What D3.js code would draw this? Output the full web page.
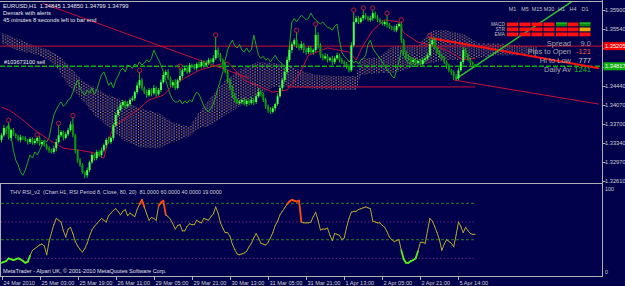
<!DOCTYPE html>
<meta charset="utf-8">
<script src="https://d3js.org/d3.v7.min.js"></script>
<style>
body { margin: 0; background: #00004b; overflow: hidden; }
text { font-family: "Liberation Sans", Arial, sans-serif; }
</style>
<div id="chart"></div>
<script>
// ---- data ----
var firstOpen = 1.3340;
var closes = [
  1.3349,1.3363,1.3355,1.3344,1.3359,1.3351,1.3347,1.3340,1.3345,1.3344,
  1.3340,1.3336,1.3342,1.3334,1.3338,1.3344,1.3332,1.3336,1.3330,1.3324,
  1.3320,1.3317,1.3324,1.3336,1.3349,1.3355,1.3344,1.3351,1.3359,1.3370,
  1.3349,1.3320,1.3301,1.3292,1.3278,1.3272,1.3282,1.3297,1.3311,1.3305,
  1.3317,1.3311,1.3320,1.3330,1.3340,1.3336,1.3344,1.3368,1.3388,1.3398,
  1.3407,1.3413,1.3405,1.3409,1.3417,1.3420,1.3432,1.3445,1.3455,1.3440,
  1.3432,1.3426,1.3436,1.3430,1.3440,1.3428,1.3436,1.3451,1.3465,1.3471,
  1.3459,1.3445,1.3451,1.3440,1.3455,1.3463,1.3474,1.3478,1.3471,1.3484,
  1.3482,1.3478,1.3486,1.3482,1.3490,1.3484,1.3488,1.3494,1.3490,1.3497,
  1.3513,1.3503,1.3494,1.3484,1.3471,1.3455,1.3440,1.3426,1.3417,1.3413,
  1.3413,1.3417,1.3409,1.3415,1.3411,1.3417,1.3413,1.3424,1.3432,1.3428,
  1.3417,1.3405,1.3398,1.3394,1.3401,1.3409,1.3424,1.3440,1.3455,1.3471,
  1.3494,1.3513,1.3524,1.3532,1.3521,1.3517,1.3524,1.3513,1.3509,1.3517,
  1.3509,1.3513,1.3542,1.3522,1.3503,1.3497,1.3501,1.3494,1.3497,1.3490,
  1.3497,1.3503,1.3494,1.3490,1.3486,1.3482,1.3474,1.3522,1.3567,1.3574,
  1.3567,1.3574,1.3580,1.3576,1.3571,1.3574,1.3584,1.3576,1.3571,1.3567,
  1.3563,1.3567,1.3561,1.3557,1.3555,1.3551,1.3559,1.3563,1.3532,1.3509,
  1.3501,1.3497,1.3490,1.3494,1.3488,1.3492,1.3486,1.3494,1.3497,1.3503,
  1.3524,1.3532,1.3517,1.3509,1.3503,1.3497,1.3490,1.3482,1.3474,1.3471,
  1.3463,1.3459,1.3474,1.3490,1.3513,1.3503,1.3494,1.3488,1.3486,1.3480
];
// wick lengths in pips above / below the body
var upWick = [
  4,6,3,19,3,4,2,3,5,3, 3,2,4,3,5,2,3,4,2,3, 4,3,5,6,19,4,3,5,4,6, 13,3,2,4,3,2,5,3,4,3,
  4,3,5,3,4,6,3,5,4,6, 5,4,3,6,4,5,3,6,15,4, 3,5,4,3,6,3,4,5,6,4, 5,3,4,6,3,15,4,3,5,4,
  3,4,3,5,4,3,5,4,3,6, 25,5,4,3,6,4,3,5,4,3, 4,3,5,4,3,6,4,5,8,4, 3,4,3,5,4,3,6,5,4,8,
  6,8,5,4,15,4,6,3,5,4, 4,3,17,5,4,3,6,4,3,5, 4,5,3,4,3,4,3,6,19,5, 4,3,10,4,3,5,6,3,4,3,
  4,3,13,4,3,5,4,3,4,3, 3,4,3,5,4,3,4,5,3,4, 13,4,5,3,4,3,4,3,5,3, 3,4,5,3,6,4,3,4,3,0
];
var dnWick = [
  5,3,4,3,6,3,4,3,5,4, 3,5,4,3,4,5,3,4,3,4, 5,3,4,6,3,4,5,3,4,3, 4,6,5,4,3,6,5,4,3,5,
  4,3,5,4,6,3,4,5,3,4, 3,4,5,3,4,3,5,4,6,5, 4,5,3,6,4,5,3,4,3,5, 4,3,5,4,3,4,5,3,4,3,
  4,3,5,3,4,5,3,4,3,4, 3,5,4,6,3,5,4,6,5,4, 5,4,3,5,4,3,6,4,3,5, 4,5,6,4,3,5,4,3,5,4,
  5,4,6,3,4,5,4,6,5,4, 3,5,4,6,5,4,3,5,4,6, 4,3,5,4,6,5,4,3,4,3, 4,3,5,4,3,4,5,3,4,3,
  3,4,5,3,4,3,4,3,6,4, 5,4,3,5,4,6,3,4,5,4, 4,5,3,4,5,3,4,5,4,6, 8,5,4,3,5,4,3,4,3,0
];
var rsi = [
  14,15,16,19,18,17,18,19,18,16, 14,15,22,28,30,32,34,35,33,23,
  38,48,57,64,62,60,50,43,52,54, 47,38,33,29,26,30,36,44,51,55,
  58,61,64,62,60,67,70,73,75,72, 68,72,74,67,70,68,66,74,80,85,
  77,69,62,65,64,62,78,82,84,68, 66,63,58,52,56,57,50,50,55,58,
  57,57,62,60,59,64,63,62,66,69, 77,70,59,53,48,48,44,35,29,24,
  23,24,25,27,32,36,42,47,42,36, 35,34,37,42,48,56,61,68,72,76,
  80,83,85,84,83,84,60,59,59,59, 60,66,71,62,51,52,52,53,45,39,
  47,46,45,40,42,54,64,71,72,72, 74,75,76,77,76,75,61,60,59,59,
  56,54,49,43,40,38,39,40,28,18, 14,14,16,17,19,27,37,37,36,50,
  64,61,55,48,40,28,35,40,38,36, 32,45,60,55,48,54,50,47,46,46
];
var kumoBars = [0,6,14,20,24,28,34,39,45,51,58,66,72,79,83,88,94,101,108,114,120,127,133,141,149,151,158,164,169,175,181,187,195,200,208,217,225];
var spanA = [1.3546,1.3536,1.3521,1.3513,1.3503,1.3484,1.3455,1.3442,1.3426,1.3417,1.3401,1.3392,1.3374,1.3365,1.3394,1.3422,1.3455,1.3478,1.3490,1.3488,1.3484,1.3471,1.3465,1.3463,1.3463,1.3497,1.3499,1.3519,1.3522,1.3522,1.3551,1.3551,1.3542,1.3526,1.3526,1.3522,1.3519];
var spanB = [1.3526,1.3513,1.3505,1.3494,1.3474,1.3445,1.3417,1.3388,1.3365,1.3340,1.3326,1.3324,1.3336,1.3347,1.3363,1.3368,1.3388,1.3407,1.3426,1.3442,1.3442,1.3440,1.3438,1.3436,1.3436,1.3465,1.3469,1.3469,1.3474,1.3484,1.3488,1.3494,1.3494,1.3497,1.3503,1.3503,1.3507];
var tenkanBars = [0,3,8,14,20,26,33,39,43,45,47,51,58,62,68,72,77,83,89,95,102,108,114,120,125,129,137,146,149,152,156,161,167,169,175,181,187,194,199];
var tenkanPrices = [1.3403,1.3398,1.3382,1.3359,1.3340,1.3324,1.3320,1.3315,1.3305,1.3340,1.3365,1.3378,1.3401,1.3417,1.3426,1.3445,1.3459,1.3474,1.3482,1.3490,1.3455,1.3444,1.3432,1.3436,1.3465,1.3503,1.3517,1.3509,1.3494,1.3522,1.3551,1.3571,1.3567,1.3546,1.3528,1.3522,1.3513,1.3494,1.3497];
var demarkBars = [3,15,24,30,58,75,90,124,132,148,152,156,162,168,180];
var trendFrom = [[17.2,1.3603],[180.3,1.3536],[190.4,1.3455],[190.8,1.3457],[120,1.3442]];
var trendTo   = [[104,1.3459],[251,1.3478],[251,1.3409],[240.6,1.3609],[199,1.3442]];
var stopPrice = 1.35205, orderPrice = 1.34817;
var priceTicks = [1.35900,1.35540,1.35170,1.34810,1.34440,1.34070,1.33700,1.33340,1.32970,1.32610];
var timeLabels = ["24 Mar 2010","25 Mar 03:00","25 Mar 19:00","26 Mar 11:00","29 Mar 05:00","29 Mar 21:00",
                  "30 Mar 13:00","31 Mar 05:00","31 Mar 21:00","1 Apr 13:00","2 Apr 05:00","2 Apr 21:00","5 Apr 14:00"];
var rsiLevels = [81, 60, 40, 19];
var tfNames = ["M1","M5","M15","M30","H1","H4","D1"];
var tfRows = ["MACD","STR","EMA"];
var tfSignals = [["dn","dn","dn","dn","up","dn","up"],
                 ["dn","dn","dn","dn","dn","dn","flat"],
                 ["dn","dn","dn","dn","dn","dn","dn"]];
var infoNames = ["Spread","Pips to Open","Hi to Low","Daily Av"];
var infoValues = ["9.0","-121","777","1241"];

// ---- setup ----
var W = 625, H = 286, axisX = 602.5;
var svg = d3.select("#chart").append("svg").attr("width", W).attr("height", H);
svg.append("rect").attr("width", W).attr("height", H).attr("fill", "#00004b");

var x = d3.scaleLinear().domain([0, 199]).range([1.5, 1.5 + 199 * 2.38]);
var y = d3.scaleLinear().domain([1.32610, 1.35900]).range([181, 10]);
var yr = d3.scaleLinear().domain([0, 100]).range([275.2, 186.5]);

var defs = svg.append("defs");
defs.append("clipPath").attr("id", "mainClip").append("rect")
    .attr("x", 0).attr("y", 2).attr("width", axisX).attr("height", 181);
// dotted kumo fill: sparse orange / peach dots
var pat = defs.append("pattern").attr("id", "kumo").attr("patternUnits", "userSpaceOnUse")
    .attr("width", 4.76).attr("height", 2.8);
pat.append("rect").attr("x", 0).attr("y", 0).attr("width", 1.1).attr("height", 1.1).attr("fill", "#e89a50");
pat.append("rect").attr("x", 2.38).attr("y", 1.4).attr("width", 1.1).attr("height", 1.1).attr("fill", "#f6dcc0");

var main = svg.append("g").attr("clip-path", "url(#mainClip)");

// Ichimoku cloud
var kumo = kumoBars.map(function (b, i) { return { b: b, a: spanA[i], s: spanB[i] }; });
main.append("path").datum(kumo)
    .attr("fill", "url(#kumo)")
    .attr("d", d3.area().x(function (d) { return x(d.b); })
        .y0(function (d) { return y(d.a); }).y1(function (d) { return y(d.s); }));

// order lines
main.append("line").attr("x1", 0).attr("x2", axisX).attr("y1", y(stopPrice)).attr("y2", y(stopPrice))
    .attr("stroke", "#d0102a").attr("stroke-width", 1);
main.append("line").attr("x1", 0).attr("x2", axisX).attr("y1", y(orderPrice)).attr("y2", y(orderPrice))
    .attr("stroke", "#10b010").attr("stroke-width", 1.5).attr("stroke-dasharray", "5,2");

// chikou span (close shifted back 26 bars)
var chikou = closes.map(function (c, i) { return [i - 26, c]; }).filter(function (d) { return d[0] >= 0; });
main.append("path").datum(chikou).attr("fill", "none").attr("stroke", "#22a822").attr("stroke-width", 1)
    .attr("d", d3.line().x(function (d) { return x(d[0]); }).y(function (d) { return y(d[1]); }));

// tenkan
main.append("path").datum(tenkanBars.map(function (b, i) { return [b, tenkanPrices[i]]; }))
    .attr("fill", "none").attr("stroke", "#c8103a").attr("stroke-width", 1)
    .attr("d", d3.line().x(function (d) { return x(d[0]); }).y(function (d) { return y(d[1]); }));

// trend lines
var trendStyle = [["#c8103a", 1], ["#ff1010", 2], ["#c8103a", 1], ["#30c030", 1.5], ["#c8103a", 1]];
trendFrom.forEach(function (f, i) {
  main.append("line").attr("x1", x(f[0])).attr("y1", y(f[1]))
      .attr("x2", x(trendTo[i][0])).attr("y2", y(trendTo[i][1]))
      .attr("stroke", trendStyle[i][0]).attr("stroke-width", trendStyle[i][1]);
});

// candles
var bars = closes.map(function (c, i) {
  var o = i === 0 ? firstOpen : closes[i - 1];
  return { i: i, o: o, c: c,
           h: Math.max(o, c) + upWick[i] * 0.0001,
           l: Math.min(o, c) - dnWick[i] * 0.0001 };
});
main.selectAll(".wick").data(bars).enter().append("line")
    .attr("x1", function (d) { return x(d.i); }).attr("x2", function (d) { return x(d.i); })
    .attr("y1", function (d) { return y(d.h); }).attr("y2", function (d) { return y(d.l); })
    .attr("stroke", "#18c018").attr("stroke-width", 1);
main.selectAll(".body").data(bars).enter().append("rect")
    .attr("x", function (d) { return x(d.i) - 1; }).attr("width", 2)
    .attr("y", function (d) { return y(Math.max(d.o, d.c)); })
    .attr("height", function (d) { return Math.max(1, Math.abs(y(d.o) - y(d.c))); })
    .attr("fill", function (d) { return d.c >= d.o ? "#4cff4c" : "#0a9a0a"; });

// demark points
main.selectAll(".dm").data(demarkBars).enter().append("circle")
    .attr("cx", function (b) { return x(b); }).attr("cy", function (b) { return y(bars[b].h) - 2; })
    .attr("r", 2.2).attr("fill", "none").attr("stroke", "#e0203a").attr("stroke-width", 0.8);

// header text
var hdr = ["EURUSD,H1  1.34845 1.34850 1.34799 1.34799", "Demark with alerts", "45 minutes 8 seconds left to bar end"];
svg.selectAll(".hdr").data(hdr).enter().append("text")
    .attr("x", 3).attr("y", function (d, i) { return 7.5 + i * 7.3; })
    .attr("xml:space", "preserve")
    .attr("fill", "#e8e8e8").attr("font-size", 5.8).text(function (d) { return d; });
svg.append("text").attr("x", 4).attr("y", y(orderPrice) - 2.5).attr("fill", "#e8e8e8")
    .attr("font-size", 5.6).text("#103673100 sell");

// multi-timeframe panel
var colX = [507, 519.5, 531.5, 543.5, 556, 567.5, 579.5], cellW = 11;
svg.selectAll(".tf").data(tfNames).enter().append("text")
    .attr("x", function (d, i) { return colX[i] + cellW / 2; }).attr("y", 11)
    .attr("text-anchor", "middle").attr("fill", "#c0c0c0").attr("font-size", 5.4).text(function (d) { return d; });
tfRows.forEach(function (r, ri) {
  var ry = 22.5 + ri * 5;
  svg.append("text").attr("x", 505).attr("y", ry + 3.5).attr("text-anchor", "end")
     .attr("fill", "#c0c0c0").attr("font-size", 4.8).text(r);
  tfSignals[ri].forEach(function (s, ci) {
    svg.append("rect").attr("x", colX[ci]).attr("y", ry).attr("width", cellW).attr("height", 3.8)
       .attr("fill", s === "up" ? "#0a8a0a" : s === "flat" ? "#f0a800" : "#ff1010");
    if (s === "up") svg.append("rect").attr("x", colX[ci]).attr("y", ry).attr("width", cellW)
       .attr("height", 1.2).attr("fill", "#30c030");
  });
});
var valColor = ["#a8a8a8", "#ff5050", "#d8d8d8", "#20c020"];
infoNames.forEach(function (n, i) {
  var ty = 45.5 + i * 8.8;
  svg.append("text").attr("x", 571).attr("y", ty).attr("text-anchor", "end")
     .attr("fill", "#a8a8a8").attr("font-size", 7.5).text(n);
  svg.append("text").attr("x", 591).attr("y", ty).attr("text-anchor", "end")
     .attr("fill", valColor[i]).attr("font-size", 7.5).text(infoValues[i]);
});

// frame
svg.append("line").attr("x1", 0).attr("x2", axisX).attr("y1", 1.5).attr("y2", 1.5).attr("stroke", "#b0b0b0");
svg.append("line").attr("x1", 0).attr("x2", axisX).attr("y1", 183.5).attr("y2", 183.5).attr("stroke", "#b0b0b0");
svg.append("line").attr("x1", 0).attr("x2", axisX).attr("y1", 276.5).attr("y2", 276.5).attr("stroke", "#b0b0b0");
svg.append("line").attr("x1", axisX).attr("x2", axisX).attr("y1", 0).attr("y2", 277).attr("stroke", "#b0b0b0");
svg.append("line").attr("x1", 0.5).attr("x2", 0.5).attr("y1", 184).attr("y2", 276).attr("stroke", "#b0b0b0");

// price axis (labels hidden under the price boxes are skipped, like the terminal does)
var pa = svg.append("g");
var boxes = [[stopPrice, "#ff0000"], [orderPrice, "#10b010"]];
priceTicks.forEach(function (p) {
  pa.append("line").attr("x1", axisX).attr("x2", axisX + 3).attr("y1", Math.round(y(p)) + 0.5)
    .attr("y2", Math.round(y(p)) + 0.5).attr("stroke", "#b0b0b0");
  var hidden = boxes.some(function (b) { return Math.abs(y(b[0]) - y(p)) < 8; });
  if (!hidden) pa.append("text").attr("x", axisX + 2.5).attr("y", y(p) + 2).attr("fill", "#d0d0d0")
    .attr("font-size", 5.7).text(p.toFixed(5));
});
boxes.forEach(function (b) {
  pa.append("rect").attr("x", axisX + 1).attr("y", y(b[0]) - 4).attr("width", 22).attr("height", 8).attr("fill", b[1]);
  pa.append("text").attr("x", axisX + 2.5).attr("y", y(b[0]) + 2).attr("fill", "#ffffff")
    .attr("font-size", 5.7).text(b[0].toFixed(5));
});

// RSI sub window
svg.append("text").attr("x", 10).attr("y", 193.5).attr("fill", "#d0d0d0").attr("font-size", 5.4)
   .attr("xml:space", "preserve")
   .text("THV RSI_v2  (Chart H1, RSI Period 8, Close, 80, 20)  81.0000 60.0000 40.0000 19.0000");
rsiLevels.forEach(function (lv, i) {
  svg.append("line").attr("x1", 1).attr("x2", x(199)).attr("y1", yr(lv)).attr("y2", yr(lv))
     .attr("stroke", i % 2 === 0 ? "#2e7a2e" : "#8a2a8a").attr("stroke-width", 1)
     .attr("stroke-dasharray", i % 2 === 0 ? "3,2" : "1.2,2.4");
});
for (var i = 0; i < rsi.length - 1; i++) {
  var hi = Math.max(rsi[i], rsi[i + 1]), lo = Math.min(rsi[i], rsi[i + 1]);
  var col = hi > 80 ? "#ff4a10" : lo < 20 ? "#58f020" : "#b8a82a";
  svg.append("line").attr("x1", x(i)).attr("y1", yr(rsi[i])).attr("x2", x(i + 1)).attr("y2", yr(rsi[i + 1]))
     .attr("stroke", col).attr("stroke-width", (hi > 80 || lo < 20) ? 1.8 : 1).attr("stroke-linecap", "round");
}
svg.append("text").attr("x", axisX + 2.5).attr("y", 191).attr("fill", "#d0d0d0").attr("font-size", 5.4).text("100");
svg.append("text").attr("x", axisX + 2.5).attr("y", 274).attr("fill", "#d0d0d0").attr("font-size", 5.4).text("0");
svg.append("text").attr("x", 3).attr("y", 273).attr("fill", "#e0e0e0").attr("font-size", 5.6)
   .text("MetaTrader - Alpari UK, \u00a9 2001-2010 MetaQuotes Software Corp.");

// time axis
timeLabels.forEach(function (t, k) {
  var tx = Math.round(x(k * 16)) + 0.5;
  svg.append("line").attr("x1", tx).attr("x2", tx).attr("y1", 276).attr("y2", 280).attr("stroke", "#b0b0b0");
  svg.append("text").attr("x", tx + 1).attr("y", 284.5).attr("fill", "#d0d0d0").attr("font-size", 5.6).text(t);
});
</script>
